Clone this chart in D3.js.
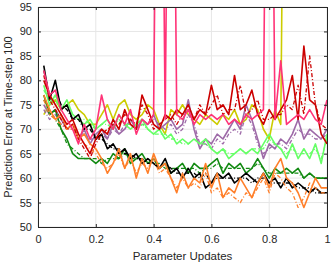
<!DOCTYPE html>
<html>
<head>
<meta charset="utf-8">
<script src="https://cdn.jsdelivr.net/npm/d3@7"></script>
<style>
  body { margin: 0; background: #fff; }
  text { font-family: "Liberation Sans", Arial, sans-serif; }
</style>
</head>
<body>
<div id="chart"></div>
<script>
// parameter updates (fraction of training)
const updates = [0.02,0.04,0.06,0.08,0.10,0.12,0.14,0.16,0.18,0.20,
                 0.22,0.24,0.26,0.28,0.30,0.32,0.34,0.36,0.38,0.40,
                 0.42,0.44,0.46,0.48,0.50,0.52,0.54,0.56,0.58,0.60,
                 0.62,0.64,0.66,0.68,0.70,0.72,0.74,0.76,0.78,0.80,
                 0.82,0.84,0.86,0.88,0.90,0.92,0.94,0.96,0.98,1.00];

const xTicks = [0, 0.2, 0.4, 0.6, 0.8, 1];
const yTicks = [50, 55, 60, 65, 70, 75, 80, 85, 90, 95];

// solid runs
const yellowRun = [73,75,76,74,75,76,74,73,71,71,73,75,72,75,76,73,72,73,75,74,
                   71,69,74,73,75,73,72,71,73,72,71,73,72,74,71,72,75,74,70,68,
                   74,71,200];
const purpleRun = [75,73,74,72,70,71,68,70,67,69,70,68,71,69,70,72,70,72,71,73,
                   70,71,72,70,71,76,70,66,68,67,69,68,70,72,70,75,72,68,64,67,
                   66,68,67,69,72,68,70,69,68,70];
const lightGreenRun = [79,75,77,74,76,73,72,71,72,70,71,72,70,73,71,70,71,72,70,69,
                       70,68,69,67,68,67,68,67,68,66,65,66,64,65,66,65,66,65,67,69,
                       67,66,64,67,64,66,64,67,63,69];
const greenRun = [77,73,74,70,68,65,64,64,64,63,64,63,65,64,66,63,64,65,63,64,
                  62,63,61,62,63,61,63,62,62,63,64,61,63,62,63,61,62,64,62,60,
                  62,61,62,61,62,60,61,60,60,60];
const blackRun = [83,76,80,74,75,72,73,70,71,68,69,66,67,65,66,64,65,63,64,63,
                  62,64,61,62,60,62,60,61,58,59,61,60,61,59,60,61,60,59,61,59,
                  60,58,60,58,59,58,57,58,57,57];
const orangeRun = [77,74,72,73,70,71,68,69,67,66,64,61,63,66,62,65,60,64,61,65,
                   62,63,60,57,61,58,60,59,63,58,61,56,58,57,60,58,56,59,61,58,
                   62,64,60,59,57,54,57,60,58,58];
const redRun = [80,77,75,73,71,72,69,67,65,68,70,69,72,70,74,71,70,77,74,71,
                70,73,72,74,73,75,72,74,73,79,74,75,73,81,74,75,78,73,71,74,
                72,74,76,81,72,87,76,75,69,67];
const pinkRun = [82,77,78,74,72,70,67,71,68,70,77,72,70,73,71,74,69,72,71,73,
                 200,72,200,73,72,74,71,73,72,73,72,73,71,72,71,73,72,73,74,200,
                 72,84,71,72,73,72,74,72,71,76];

// repeat runs (dash-dot)
const redRepeat = [81,76,74,72,70,71,68,66,64,67,69,70,71,71,73,72,71,75,73,70,
                   71,72,73,71,73,74,72,75,73,75,77,73,74,74,79,73,74,76,72,72,
                   73,73,75,74,79,73,85,75,71,70];
const orangeRepeat = [76,73,72,71,70,70,68,67,66,65,63,62,63,65,62,64,61,63,62,64,
                      61,62,60,58,60,58,59,58,61,57,58,56,57,56,55,57,56,58,60,57,
                      61,60,58,57,54,56,59,58,57,57];
const purpleRepeat = [74,72,73,71,70,70,69,69,68,68,69,68,70,69,71,71,70,71,71,72,
                      71,70,71,69,70,73,71,67,67,66,68,67,69,70,69,73,71,67,65,66,
                      67,67,66,68,70,69,69,68,68,69];
const lightGreenRepeat = [78,76,76,74,75,73,72,72,71,70,71,71,70,72,71,71,70,71,70,69,
                          69,69,68,68,67,67,68,67,67,66,65,66,65,65,66,65,66,66,66,68,
                          67,66,65,66,65,65,65,66,64,68];
const greenRepeat = [76,74,72,70,67,66,65,64,64,64,63,64,64,64,65,64,64,64,63,63,
                     63,62,62,62,62,62,62,61,62,62,63,62,62,62,62,62,62,63,62,61,
                     61,61,61,61,61,60,61,60,60,60];
const blackRepeat = [82,77,78,75,74,72,72,70,70,68,68,67,66,66,65,65,64,64,63,63,
                     62,63,62,61,61,61,61,60,61,59,60,60,60,60,60,60,59,60,60,59,
                     59,59,59,59,58,58,58,57,57,57];

const series = [
  { values: yellowRun,        color: "#cccc00", dash: null },
  { values: purpleRepeat,     color: "#9e6aa8", dash: "4,2,1,2" },
  { values: purpleRun,        color: "#9e6aa8", dash: null },
  { values: lightGreenRepeat, color: "#66ff66", dash: "4,2,1,2" },
  { values: lightGreenRun,    color: "#66ff66", dash: null },
  { values: greenRepeat,      color: "#128a12", dash: "4,2,1,2" },
  { values: greenRun,         color: "#128a12", dash: null },
  { values: blackRepeat,      color: "#000000", dash: "4,2,1,2" },
  { values: blackRun,         color: "#000000", dash: null },
  { values: orangeRepeat,     color: "#ff7f2a", dash: "4,2,1,2" },
  { values: orangeRun,        color: "#ff7f2a", dash: null },
  { values: redRepeat,        color: "#cc0000", dash: "4,2,1,2" },
  { values: redRun,           color: "#cc0000", dash: null },
  { values: pinkRun,          color: "#ff3377", dash: null }
];

const width = 336, height = 263;
const margin = { top: 7, right: 9, bottom: 36, left: 38 };
const w = width - margin.left - margin.right;
const h = height - margin.top - margin.bottom;

const svg = d3.select("#chart").append("svg")
    .attr("width", width)
    .attr("height", height);

const g = svg.append("g")
    .attr("transform", `translate(${margin.left},${margin.top})`);

const x = d3.scaleLinear().domain([0, 1]).range([0, w]);
const y = d3.scaleLinear().domain([50, 95]).range([h, 0]);

// grid
g.append("g").selectAll("line").data(xTicks).enter().append("line")
    .attr("x1", d => x(d)).attr("x2", d => x(d))
    .attr("y1", 0).attr("y2", h)
    .attr("stroke", "#e6e6e6").attr("stroke-width", 1);
g.append("g").selectAll("line").data(yTicks).enter().append("line")
    .attr("y1", d => y(d)).attr("y2", d => y(d))
    .attr("x1", 0).attr("x2", w)
    .attr("stroke", "#e6e6e6").attr("stroke-width", 1);

g.append("clipPath").attr("id", "clip")
  .append("rect").attr("width", w).attr("height", h);

const line = d3.line()
    .x((d, i) => x(updates[i]))
    .y(d => y(d));

g.append("g").attr("clip-path", "url(#clip)")
  .selectAll("path").data(series).enter().append("path")
    .attr("d", d => line(d.values))
    .attr("fill", "none")
    .attr("stroke", d => d.color)
    .attr("stroke-width", d => d.dash ? 1.3 : 1.6)
    .attr("stroke-dasharray", d => d.dash)
    .attr("stroke-linejoin", "round");

// axes, ticks inward on all sides
const axisColor = "#262626";
const axBottom = g.append("g").attr("transform", `translate(0,${h})`)
    .call(d3.axisBottom(x).tickValues(xTicks).tickSizeInner(-3).tickSizeOuter(0)
          .tickPadding(8).tickFormat(d3.format("")));
const axLeft = g.append("g")
    .call(d3.axisLeft(y).tickValues(yTicks).tickSizeInner(-3).tickSizeOuter(0).tickPadding(6));
const axTop = g.append("g")
    .call(d3.axisTop(x).tickValues(xTicks).tickSizeInner(-3).tickSizeOuter(0).tickFormat(""));
const axRight = g.append("g").attr("transform", `translate(${w},0)`)
    .call(d3.axisRight(y).tickValues(yTicks).tickSizeInner(-3).tickSizeOuter(0).tickFormat(""));

[axBottom, axLeft, axTop, axRight].forEach(a => {
  a.select(".domain").attr("stroke", axisColor);
  a.selectAll(".tick line").attr("stroke", axisColor);
  a.selectAll(".tick text").attr("fill", axisColor)
      .style("font-size", "11px")
      .style("font-family", "'Liberation Sans', Arial, sans-serif");
});

svg.append("text")
    .attr("x", margin.left + w / 2)
    .attr("y", 260)
    .attr("text-anchor", "middle")
    .attr("fill", axisColor)
    .style("font-size", "11.5px")
    .text("Parameter Updates");

svg.append("text")
    .attr("transform", `translate(12,${margin.top + h / 2}) rotate(-90)`)
    .attr("text-anchor", "middle")
    .attr("fill", axisColor)
    .style("font-size", "11px")
    .text("Prediction Error at Time-step 100");
</script>
</body>
</html>
